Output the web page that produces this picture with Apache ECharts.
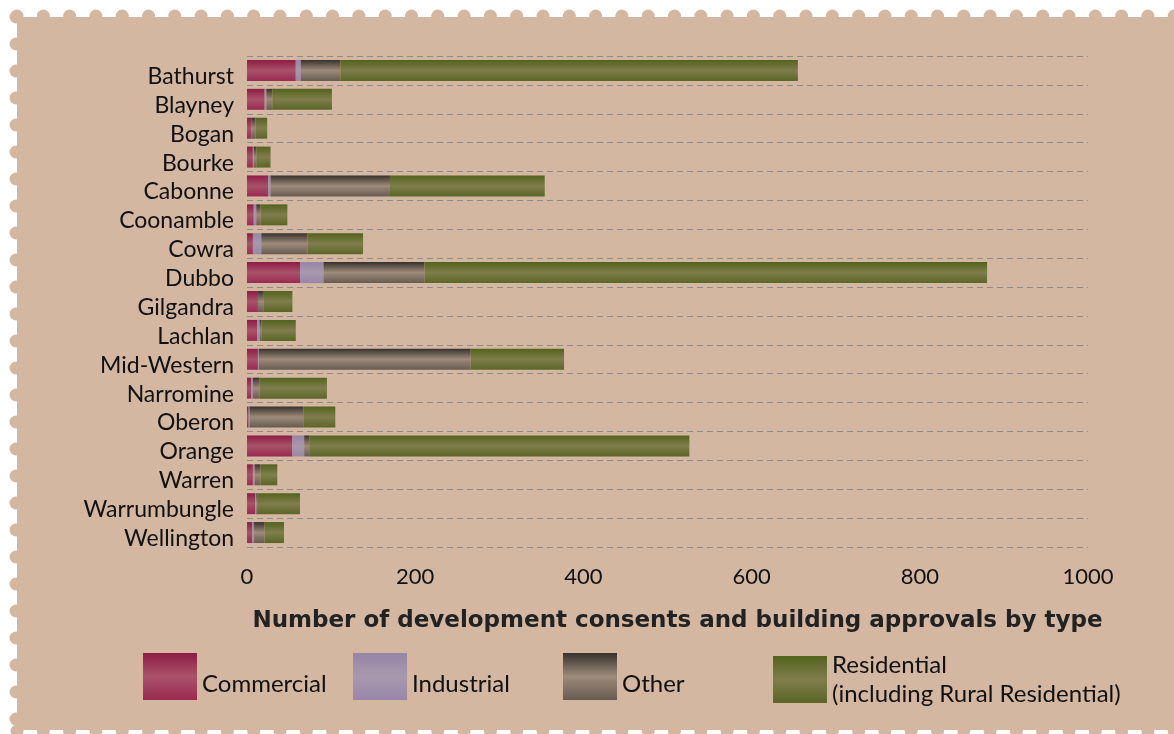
<!DOCTYPE html>
<html>
<head>
<meta charset="utf-8">
<script src="https://cdn.jsdelivr.net/npm/echarts@6/dist/echarts.min.js"></script>
<style>
  html, body { margin: 0; padding: 0; background: #ffffff; }
  #chart { width: 1174px; height: 734px; }
</style>
</head>
<body>
<div id="chart"></div>
<script>
// Councils, top to bottom
const councils = ['Bathurst', 'Blayney', 'Bogan', 'Bourke', 'Cabonne', 'Coonamble', 'Cowra', 'Dubbo',
  'Gilgandra', 'Lachlan', 'Mid-Western', 'Narromine', 'Oberon', 'Orange', 'Warren', 'Warrumbungle', 'Wellington'];

// Development consents and building approvals, by type
const commercial  = [58, 21, 5, 7, 25, 8, 7, 63, 13, 12, 13, 5, 2, 54, 7, 10, 6];
const industrial  = [6, 2, 0, 1, 3, 3, 10, 28, 0, 3, 1, 2, 1, 14, 2, 1, 2];
const other       = [47, 7, 5, 3, 142, 5, 55, 120, 7, 2, 252, 8, 64, 6, 7, 1, 13];
const residential = [544, 71, 14, 17, 184, 32, 66, 669, 34, 41, 111, 80, 38, 452, 20, 51, 23];

const xTicks = { min: 0, max: 1000, step: 200 };

const seriesNames = ['Commercial', 'Industrial', 'Other', 'Residential'];
const legendText = {
  Commercial: '{one|Commercial}',
  Industrial: '{one|Industrial}',
  Other: '{one|Other}',
  Residential: '{two|Residential}\n{two|(including Rural Residential)}'
};

// cylinder-like shading across the bar thickness
function shade(top, mid, bottom) {
  return new echarts.graphic.LinearGradient(0, 0, 0, 1, [
    { offset: 0, color: top },
    { offset: 0.5, color: mid },
    { offset: 1, color: bottom }
  ]);
}
const fills = [
  shade('#8e1c45', '#a9526a', '#9a2a52'),
  shade('#9585a6', '#a999ad', '#9886a8'),
  shade('#38322c', '#9d8b7b', '#675b51'),
  shade('#53631d', '#7f7e4c', '#5a6626')
];
const valuesBySeries = [commercial, industrial, other, residential];

// stamp-shaped backdrop with a scalloped edge
const BG = '#d3b7a1';
const stamp = [{ type: 'rect', z: -10, silent: true, shape: { x: 17, y: 17, width: 1160, height: 713 }, style: { fill: BG } }];
for (let x = 17; x < 1180; x += 26.3) {
  stamp.push({ type: 'circle', z: -10, silent: true, shape: { cx: x, cy: 16, r: 6.5 }, style: { fill: BG } });
  stamp.push({ type: 'circle', z: -10, silent: true, shape: { cx: x, cy: 731, r: 6.5 }, style: { fill: BG } });
}
for (let y = 17; y < 740; y += 27) {
  stamp.push({ type: 'circle', z: -10, silent: true, shape: { cx: 16, cy: y, r: 6.5 }, style: { fill: BG } });
}

const FONT = 'Lato';
const INK = '#111111';

const chart = echarts.init(document.getElementById('chart'), null, { renderer: 'canvas' });
chart.setOption({
  backgroundColor: '#ffffff',
  animation: false,
  textStyle: { fontFamily: FONT },
  graphic: stamp,
  grid: { left: 247, right: 86, top: 56, bottom: 187, containLabel: false },
  legend: seriesNames.map((name, i) => ({
    data: [name],
    left: 143 + 210 * i,
    top: 653,
    padding: 0,
    icon: 'rect',
    itemWidth: 54,
    itemHeight: 47,
    itemGap: 0,
    selectedMode: false,
    formatter: n => legendText[n],
    textStyle: {
      fontFamily: FONT, fontSize: 24, color: INK,
      rich: {
        one: { fontFamily: FONT, fontSize: 24, color: INK, padding: [15, 0, 0, 0] },
        two: { fontFamily: FONT, fontSize: 24, color: INK, lineHeight: 29, padding: [0, 0, 0, 0] }
      }
    }
  })),
  xAxis: {
    type: 'value',
    min: xTicks.min,
    max: xTicks.max,
    interval: xTicks.step,
    axisLine: { show: false },
    axisTick: { show: false },
    splitLine: { show: false },
    axisLabel: { fontFamily: FONT, fontSize: 22, color: INK, margin: 19, formatter: v => String(v) },
    name: 'Number of development consents and building approvals by type',
    nameLocation: 'middle',
    nameGap: 63,
    nameTextStyle: { fontFamily: 'DejaVu Sans', fontSize: 23, fontWeight: 'bold', color: '#222222', padding: [0, 0, 0, 20] }
  },
  yAxis: {
    type: 'category',
    data: councils,
    inverse: true,
    axisLine: { show: false },
    axisTick: { show: false },
    axisLabel: {
      interval: 0,
      margin: 13,
      formatter: v => '{c|' + v + '}',
      rich: { c: { fontFamily: FONT, fontSize: 23, color: INK, padding: [12, 0, 0, 0] } }
    },
    splitLine: { show: true, interval: 0, lineStyle: { color: '#8c8c8c', width: 1.2, type: [6, 4] } }
  },
  series: seriesNames.map((name, i) => ({
    name,
    type: 'bar',
    stack: 'total',
    barWidth: 21,
    itemStyle: { color: fills[i] },
    data: valuesBySeries[i]
  }))
});
</script>
</body>
</html>
